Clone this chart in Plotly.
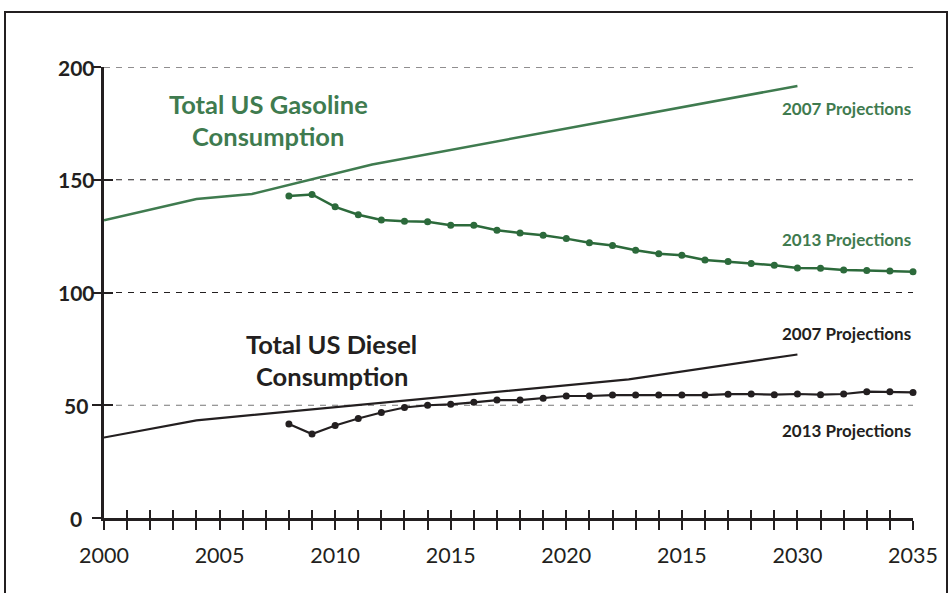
import plotly.graph_objects as go

# ---------------- data ----------------
tick_years = list(range(2000, 2036))
label_years = [2000, 2005, 2010, 2015, 2020, 2025, 2030, 2035]
label_texts = ["2000", "2005", "2010", "2015", "2020", "2015", "2030", "2035"]
y_ticks = [0, 50, 100, 150, 200]

gas_2007_x = [2000, 2004, 2006.4, 2011.6, 2030]
gas_2007_y = [132.0, 141.5, 143.7, 156.8, 191.6]

diesel_2007_x = [2000, 2004, 2022.7, 2030]
diesel_2007_y = [35.7, 43.3, 61.5, 72.5]

years_2013 = list(range(2008, 2036))
gas_2013 = [142.8, 143.5, 138.0, 134.5, 132.2, 131.6, 131.4, 129.8, 129.8, 127.6,
            126.4, 125.4, 123.9, 122.1, 120.8, 118.7, 117.2, 116.5, 114.4, 113.8,
            112.9, 112.1, 110.9, 110.7, 110.0, 109.8, 109.5, 109.2]
diesel_2013 = [41.7, 37.2, 41.0, 44.1, 46.8, 49.0, 50.0, 50.4, 51.3, 52.3,
               52.3, 53.1, 54.1, 54.1, 54.5, 54.5, 54.5, 54.5, 54.5, 54.9,
               55.0, 54.7, 55.0, 54.7, 55.0, 56.0, 56.0, 55.7]

# ---------------- style ----------------
GREEN = "#3f7b4f"
GREEN_DARK = "#2c6a3b"
BLACK = "#231f20"
FONT = "Lato"

W, H = 950, 593
ML, MR, MT, MB = 104, 37, 67, 75
PW, PH = W - ML - MR, H - MT - MB


def px_x(p):
    return (p - ML) / PW


def px_y(p):
    return (H - MB - p) / PH


fig = go.Figure()

fig.add_trace(go.Scatter(x=gas_2007_x, y=gas_2007_y, mode="lines",
                         line=dict(color=GREEN, width=2.5),
                         xaxis="x2", yaxis="y", cliponaxis=False, hoverinfo="skip"))
fig.add_trace(go.Scatter(x=years_2013, y=gas_2013, mode="lines+markers",
                         line=dict(color=GREEN_DARK, width=2.5),
                         marker=dict(color=GREEN_DARK, size=7),
                         cliponaxis=False, hoverinfo="skip"))
fig.add_trace(go.Scatter(x=diesel_2007_x, y=diesel_2007_y, mode="lines",
                         line=dict(color=BLACK, width=2.2),
                         xaxis="x", yaxis="y2", cliponaxis=False, hoverinfo="skip"))
fig.add_trace(go.Scatter(x=years_2013, y=diesel_2013, mode="lines+markers",
                         line=dict(color=BLACK, width=2.2),
                         marker=dict(color=BLACK, size=7),
                         cliponaxis=False, hoverinfo="skip"))

# gridlines
shapes = []
for v in y_ticks[1:]:
    shapes.append(dict(type="line", xref="paper", yref="y", x0=0, x1=1, y0=v, y1=v,
                       line=dict(color="#777777" if v == 50 else BLACK, width=1.2,
                                 dash="6px,6px"),
                       layer="below"))
# outer frame
shapes.append(dict(type="rect", xref="paper", yref="paper",
                   x0=px_x(5), x1=px_x(947), y0=px_y(600), y1=px_y(12),
                   line=dict(color=BLACK, width=2), layer="below"))

annotations = []
# y tick labels (centred, as in the original)
for v in y_ticks:
    annotations.append(dict(x=px_x(76), y=v, xref="paper", yref="y", text=str(v),
                            showarrow=False, xanchor="center", yanchor="middle",
                            font=dict(family=FONT, size=21, color=BLACK, weight="bold")))

# titles
title_font_g = dict(family=FONT, size=25.5, color=GREEN, weight="bold")
title_font_k = dict(family=FONT, size=25.5, color=BLACK, weight="bold")
annotations += [
    dict(x=2007.1, y=183.6, text="Total US Gasoline", font=title_font_g),
    dict(x=2007.1, y=169.4, text="Consumption", font=title_font_g),
    dict(x=2009.85, y=77.2, text="Total US Diesel", font=title_font_k),
    dict(x=2009.85, y=63.0, text="Consumption", font=title_font_k),
]
for a in annotations[-4:]:
    a.update(xref="x", yref="y", showarrow=False, xanchor="center", yanchor="middle")

proj_g = dict(family=FONT, size=17, color=GREEN, weight="bold")
proj_k = dict(family=FONT, size=17, color=BLACK, weight="bold")
for txt, yv, f in [("2007 Projections", 181.8, proj_g), ("2013 Projections", 123.3, proj_g),
                   ("2007 Projections", 82.0, proj_k), ("2013 Projections", 39.0, proj_k)]:
    annotations.append(dict(x=2035, y=yv, xref="x", yref="y", text=txt, showarrow=False,
                            xanchor="right", yanchor="middle", font=f))

axis_common = dict(showgrid=False, zeroline=False, fixedrange=True)

fig.update_layout(
    width=W, height=H,
    margin=dict(l=ML, r=MR, t=MT, b=MB),
    paper_bgcolor="white", plot_bgcolor="white",
    showlegend=False,
    shapes=shapes,
    annotations=annotations,
    xaxis=dict(range=[2000, 2035], showline=True, linewidth=2.5, linecolor=BLACK,
               ticks="outside", ticklen=9, tickwidth=2, tickcolor=BLACK,
               tickmode="array", tickvals=tick_years,
               ticktext=[label_texts[label_years.index(y)] if y in label_years else ""
                         for y in tick_years],
               tickfont=dict(family=FONT, size=21.5, color=BLACK),
               ticklabelstandoff=7, **axis_common),
    xaxis2=dict(range=[2000, 2035], overlaying="x", matches="x", anchor="y", side="bottom",
                showline=False, ticks="inside", ticklen=8, tickwidth=2, tickcolor=BLACK,
                tickmode="array", tickvals=tick_years, showticklabels=False, **axis_common),
    yaxis=dict(range=[0, 200], showline=True, linewidth=2.5, linecolor=BLACK,
               ticks="outside", ticklen=9, tickwidth=2, tickcolor=BLACK,
               tickmode="array", tickvals=y_ticks, showticklabels=False, **axis_common),
    yaxis2=dict(range=[0, 200], overlaying="y", matches="y", anchor="x", side="left",
                showline=False, ticks="inside", ticklen=9, tickwidth=2, tickcolor=BLACK,
                tickmode="array", tickvals=y_ticks, showticklabels=False, **axis_common),
)

fig.write_html("out.html",
               config={"displayModeBar": False},
               post_script="document.body.style.margin='0';"
                           "document.body.style.overflow='hidden';")
